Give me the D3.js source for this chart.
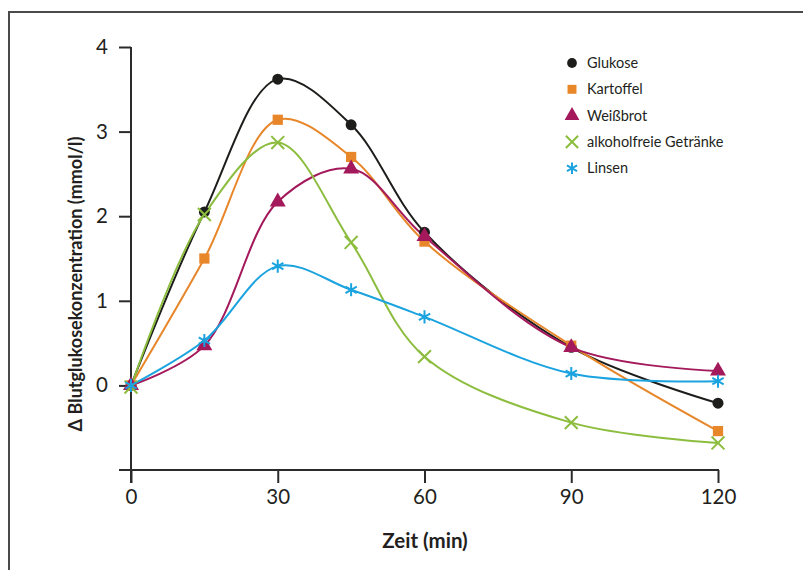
<!DOCTYPE html>
<html><head><meta charset="utf-8">
<script src="https://cdn.jsdelivr.net/npm/d3@7"></script>
<style>body{margin:0;background:#fff}svg{display:block}text{font-family:Lato,"Open Sans",sans-serif;fill:#231f20}</style>
</head><body><svg id="c" width="803" height="570"></svg>
<script>
const times = [0, 15, 30, 45, 60, 90, 120];
const seriesNames = ["Glukose", "Kartoffel", "Weißbrot", "alkoholfreie Getränke", "Linsen"];
const glukose   = [0, 2.05, 3.62, 3.08, 1.81, 0.45, -0.21];
const kartoffel = [0, 1.50, 3.14, 2.70, 1.70, 0.47, -0.54];
const weissbrot = [0, 0.47, 2.17, 2.56, 1.76, 0.45, 0.17];
const getraenke = [-0.02, 2.02, 2.87, 1.69, 0.34, -0.44, -0.68];
const linsen    = [0, 0.53, 1.41, 1.13, 0.81, 0.14, 0.05];
const xTicks = [0, 30, 60, 90, 120];
const yTicks = [0, 1, 2, 3, 4];
const colors = ["#1d1d1b", "#e8862a", "#a3195b", "#8dbd3f", "#1aa3df"];
const symbols = [d3.symbolCircle, d3.symbolSquare, d3.symbolTriangle, d3.symbolTimes, d3.symbolAsterisk];
const strokeSym = [false, false, false, true, true];
const values = [glukose, kartoffel, weissbrot, getraenke, linsen];

const svg = d3.select("#c");
svg.append("rect").attr("x",9).attr("y",12).attr("width",900).attr("height",700)
  .attr("fill","none").attr("stroke","#4a4a4a").attr("stroke-width",2);

const x = d3.scaleLinear().domain([0,120]).range([131,718]);
const y = d3.scaleLinear().domain([-1,4]).range([470,47]);

const axisColor = "#2b2b2b";
const gy = svg.append("g").attr("transform",`translate(${x(0)},0)`)
  .call(d3.axisLeft(y).tickValues(yTicks).tickSize(12).tickPadding(11).tickFormat(d3.format("d")));
gy.select(".domain").remove();
gy.selectAll("line").attr("stroke",axisColor).attr("stroke-width",2);
gy.selectAll("text").attr("font-size",20.5).style("font-family","Lato, sans-serif").attr("fill","#231f20");
svg.append("line").attr("x1",x(0)).attr("x2",x(0)).attr("y1",y(4)).attr("y2",y(-1)+13)
  .attr("stroke",axisColor).attr("stroke-width",2);

const gx = svg.append("g").attr("transform",`translate(0,${y(-1)})`)
  .call(d3.axisBottom(x).tickValues(xTicks).tickSize(13).tickPadding(6).tickFormat(d3.format("d")));
gx.select(".domain").remove();
gx.selectAll("line").attr("stroke",axisColor).attr("stroke-width",2);
gx.selectAll("text").attr("font-size",20.5).style("font-family","Lato, sans-serif").attr("fill","#231f20");
svg.append("line").attr("x1",x(0)-12).attr("x2",x(120)+1).attr("y1",y(-1)).attr("y2",y(-1))
  .attr("stroke",axisColor).attr("stroke-width",2);

svg.append("text").attr("x",425).attr("y",548).attr("text-anchor","middle")
  .attr("font-size",20.5).attr("font-weight","bold").text("Zeit (min)");
svg.append("text").attr("transform","translate(82,284) rotate(-90)").attr("text-anchor","middle")
  .attr("font-size",18).attr("font-weight","bold").text("Δ Blutglukosekonzentration (mmol/l)");

const line = d3.line().x((d,i)=>x(times[i])).y(d=>y(d)).curve(d3.curveCatmullRom.alpha(0.5));

values.forEach((vals,k)=>{
  svg.append("path").attr("d",line(vals)).attr("fill","none").attr("stroke",colors[k]).attr("stroke-width",2);
});
values.forEach((vals,k)=>{
  const sz = [95, 105, 110, 110, 120][k];
  const sym = d3.symbol().type(symbols[k]).size(sz);
  svg.append("g").selectAll("path").data(vals).join("path")
    .attr("transform",(d,i)=>`translate(${x(times[i])},${y(d)})`)
    .attr("d",sym)
    .attr("fill",strokeSym[k]?"none":colors[k])
    .attr("stroke",strokeSym[k]?colors[k]:"none")
    .attr("stroke-width",strokeSym[k]?2:0);
});

const lg = svg.append("g");
seriesNames.forEach((name,k)=>{
  const cy = 63 + k*26.3;
  const sz = [75, 80, 95, 100, 95][k];
  lg.append("path").attr("transform",`translate(572,${cy})`).attr("d",d3.symbol().type(symbols[k]).size(sz))
    .attr("fill",strokeSym[k]?"none":colors[k])
    .attr("stroke",strokeSym[k]?colors[k]:"none")
    .attr("stroke-width",strokeSym[k]?2:0);
  lg.append("text").attr("x",587).attr("y",cy+5).attr("font-size",14.5).text(name);
});
</script></body></html>
